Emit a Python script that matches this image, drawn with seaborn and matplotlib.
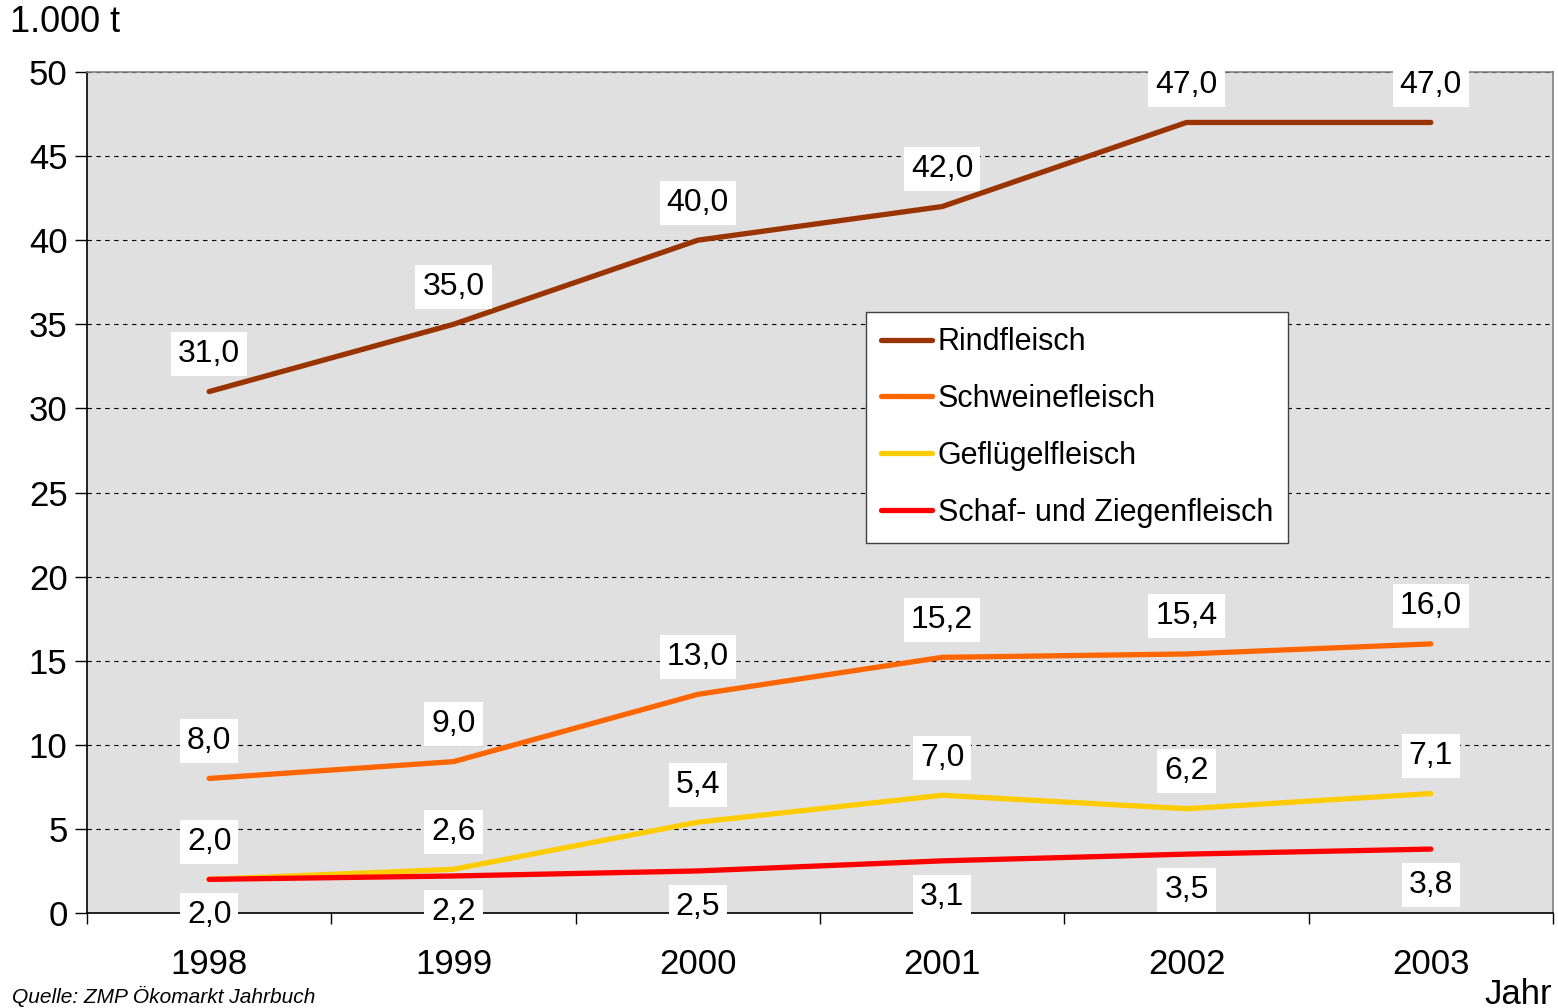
import matplotlib
matplotlib.use("Agg")
import matplotlib.pyplot as plt
import seaborn as sns
import pandas as pd
import numpy as np

# Data
years = ["1998", "1999", "2000", "2001", "2002", "2003"]
rind = [31.0, 35.0, 40.0, 42.0, 47.0, 47.0]
schwein = [8.0, 9.0, 13.0, 15.2, 15.4, 16.0]
gefluegel = [2.0, 2.6, 5.4, 7.0, 6.2, 7.1]
schaf = [2.0, 2.2, 2.5, 3.1, 3.5, 3.8]
series_names = ["Rindfleisch", "Schweinefleisch", "Geflügelfleisch", "Schaf- und Ziegenfleisch"]
colors = ["#993300", "#FF6600", "#FFCC00", "#FF0000"]

df = pd.DataFrame({
    "Jahr": years * 4,
    "Wert": rind + schwein + gefluegel + schaf,
    "Sorte": np.repeat(series_names, len(years)),
})

sns.set_theme(style="white")
plt.rcParams["font.family"] = ["Liberation Sans", "DejaVu Sans"]
plt.rcParams["text.color"] = "black"
plt.rcParams["xtick.color"] = "black"
plt.rcParams["ytick.color"] = "black"

fig = plt.figure(figsize=(15.58, 10.08), dpi=100)
ax = fig.add_axes([87 / 1558, 1 - 913 / 1008, (1553 - 87) / 1558, (913 - 72) / 1008])
ax.set_facecolor("#E0E0E0")

sns.lineplot(data=df, x="Jahr", y="Wert", hue="Sorte", hue_order=series_names,
             palette=colors, linewidth=3.8, ax=ax, sort=False,
             solid_capstyle="round")

ax.set_xlim(-0.5, 5.5)
ax.set_ylim(0, 50)
ax.set_yticks(np.arange(0, 51, 5))
ax.yaxis.grid(True, linestyle=(0, (4, 4)), color="black", linewidth=0.8)
ax.set_axisbelow(True)

# category ticks at boundaries, labels centred
ax.set_xticks(np.arange(-0.5, 6, 1))
ax.set_xticklabels([])
ax.set_xticks(np.arange(0, 6), minor=True)
ax.set_xticklabels(years, minor=True)
ax.tick_params(axis="x", which="major", direction="out", length=8, width=1, color="black", bottom=True)
ax.tick_params(axis="x", which="minor", length=0, pad=25, labelsize=25)
ax.tick_params(axis="y", direction="out", length=9, width=1, color="black", left=True, labelsize=25, pad=5)

for side in ["left", "bottom"]:
    ax.spines[side].set_color("black")
    ax.spines[side].set_linewidth(1.2)
for side in ["top", "right"]:
    ax.spines[side].set_color("#808080")
    ax.spines[side].set_linewidth(1.2)

ax.set_xlabel("")
ax.set_ylabel("")

# data labels
box = dict(boxstyle="square,pad=0.22", facecolor="white", edgecolor="none")
for vals, off in [(rind, 27), (schwein, 27), (gefluegel, 27), (schaf, -26)]:
    for i, v in enumerate(vals):
        ax.annotate(f"{v:.1f}".replace(".", ","), (i, v), xytext=(0, off),
                    textcoords="offset points", ha="center", va="center",
                    fontsize=23, bbox=box, zorder=5, annotation_clip=False)

leg = ax.legend(loc="upper left", bbox_to_anchor=((866 - 87) / 1466, (913 - 312) / 841),
                frameon=True, fancybox=False, fontsize=22, handlelength=1.65,
                handletextpad=0.2, labelspacing=0.88, borderpad=0.5, borderaxespad=0)
leg.get_frame().set_edgecolor("#404040")
leg.get_frame().set_linewidth(1.0)
leg.get_frame().set_facecolor("white")
leg.get_frame().set_alpha(1)

fig.text(10 / 1558, 1 - 22 / 1008, "1.000 t", fontsize=26, ha="left", va="center")
fig.text(1552 / 1558, 1 - 994 / 1008, "Jahr", fontsize=25, ha="right", va="center")
fig.text(12 / 1558, 1 - 1007 / 1008, "Quelle: ZMP Ökomarkt Jahrbuch", fontsize=15,
         style="italic", ha="left", va="bottom")

fig.savefig("out.png", dpi=100)
